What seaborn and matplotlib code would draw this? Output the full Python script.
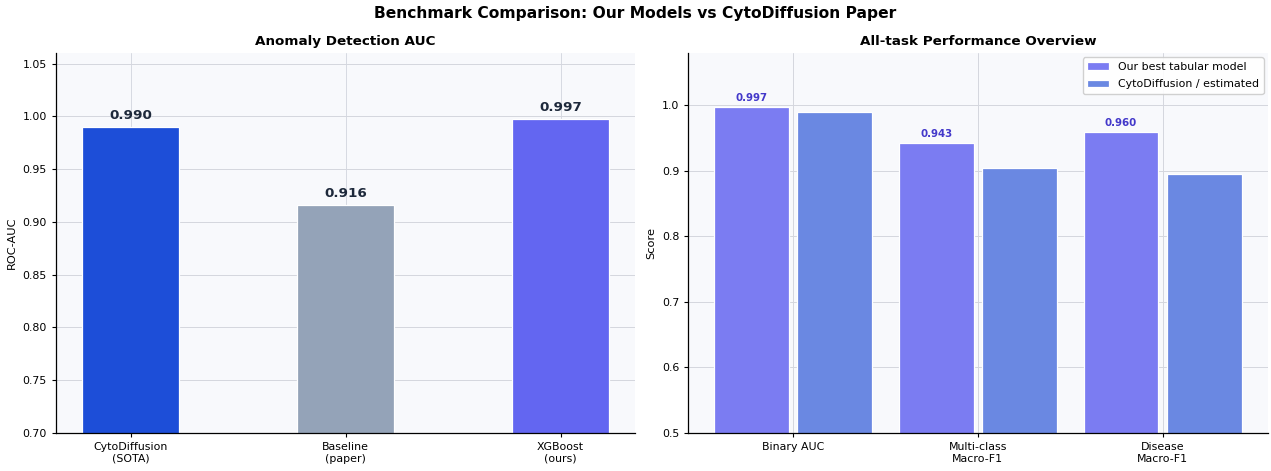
import pandas as pd
import numpy as np
import seaborn as sns
import matplotlib.pyplot as plt

# Data
auc_models = ["CytoDiffusion\n(SOTA)", "Baseline\n(paper)", "XGBoost\n(ours)"]
auc_values = [0.990, 0.916, 0.997]
auc_colors = ["#1d4ed8", "#94a3b8", "#6366f1"]

tasks = ["Binary AUC", "Multi-class\nMacro-F1", "Disease\nMacro-F1"]
ours_scores = [0.997, 0.943, 0.960]
cyto_scores = [0.990, 0.905, 0.896]
series_names = ["Our best tabular model", "CytoDiffusion / estimated"]
series_colors = ["#7b7cf2", "#6a88e2"]

sns.set_style("whitegrid")
plt.rcParams['font.family'] = ['DejaVu Sans']
plt.rcParams['text.color'] = 'black'
plt.rcParams['axes.labelcolor'] = 'black'
plt.rcParams['xtick.color'] = 'black'
plt.rcParams['ytick.color'] = 'black'

fig, axes = plt.subplots(1, 2, figsize=(12.71, 4.71), dpi=100)
fig.suptitle("Benchmark Comparison: Our Models vs CytoDiffusion Paper",
             fontsize=11.2, fontweight="bold", y=0.988)

# 1. Anomaly detection AUC
ax = axes[0]
df_auc = pd.DataFrame({"model": auc_models, "auc": auc_values})
sns.barplot(data=df_auc, x="model", y="auc", hue="model", palette=auc_colors,
            saturation=1, width=0.45, edgecolor="white", linewidth=0.9,
            legend=False, ax=ax)
for p, v in zip(ax.patches, auc_values):
    ax.text(p.get_x() + p.get_width() / 2, v + 0.005, f"{v:.3f}",
            ha="center", va="bottom", fontsize=9.7, fontweight="bold", color="#1e293b")
ax.set_ylim(0.70, 1.06)
ax.set_xlim(-0.3475, 2.3475)
ax.set_title("Anomaly Detection AUC", fontsize=9.7, fontweight="bold", pad=6)
ax.set_ylabel("ROC-AUC", fontsize=8.2)
ax.set_xlabel("")

# 2. All-task overview
ax = axes[1]
df_all = pd.DataFrame({
    "task": tasks * 2,
    "score": ours_scores + cyto_scores,
    "series": [series_names[0]] * 3 + [series_names[1]] * 3,
})
sns.barplot(data=df_all, x="task", y="score", hue="series", palette=series_colors,
            saturation=1, width=0.9, gap=0.1, edgecolor="white", linewidth=0.9, ax=ax)
for p, v in zip(ax.patches[:3], ours_scores):
    ax.text(p.get_x() + p.get_width() / 2, v + 0.006, f"{v:.3f}",
            ha="center", va="bottom", fontsize=7.4, fontweight="bold", color="#4338ca")
ax.set_ylim(0.5, 1.08)
ax.set_xlim(-0.565, 2.57)
ax.set_title("All-task Performance Overview", fontsize=9.7, fontweight="bold", pad=6)
ax.set_ylabel("Score", fontsize=8.2)
ax.set_xlabel("")
ax.legend(loc="upper right", fontsize=7.9, framealpha=0.9, labelspacing=0.7,
          borderaxespad=0.4)

for ax in axes:
    ax.set_facecolor("#f8f9fc")
    ax.set_axisbelow(True)
    ax.grid(True, color="#d4d6de", linewidth=0.7)
    for s in ["top", "right"]:
        ax.spines[s].set_visible(False)
    for s in ["left", "bottom"]:
        ax.spines[s].set_color("black")
        ax.spines[s].set_linewidth(0.9)
    ax.tick_params(axis="both", labelsize=7.9, length=3, width=0.8,
                   color="black", left=True, bottom=True)

# left panel: vertical grid lines show faintly over the bars
for line in axes[0].get_xgridlines():
    line.set_zorder(3)
    line.set_alpha(0.35)
    line.set_color("#9aa0b0")

fig.subplots_adjust(left=0.044, right=0.9976, top=0.8875, bottom=0.0807, wspace=0.0915)
plt.savefig("out.png")
